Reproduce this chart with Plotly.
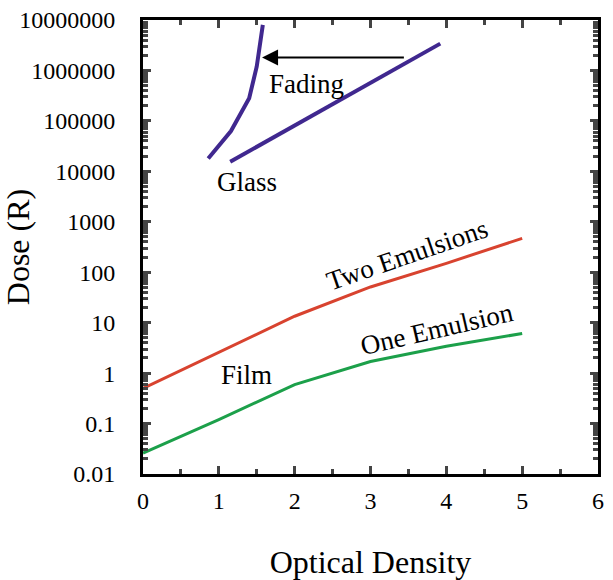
import numpy as np
import plotly.graph_objects as go

# ---- data ----
two_x = [0, 1, 2, 3, 4, 5]
two_y = [0.5, 2.6, 13.4, 51, 150, 470]
one_x = [0, 1, 2, 3, 4, 5]
one_y = [0.026, 0.12, 0.59, 1.7, 3.4, 6.1]
glass_x = [1.15, 3.92]
glass_y = [15500, 3.4e6]
fade_x = [0.86, 1.16, 1.40, 1.50, 1.58]
fade_y = [18000, 63000, 280000, 1.2e6, 8e6]

ytick_vals = [0.01, 0.1, 1, 10, 100, 1000, 10000, 100000, 1000000, 10000000]
ytick_text = ["0.01", "0.1", "1", "10", "100", "1000", "10000", "100000", "1000000", "10000000"]
xtick_vals = [0, 1, 2, 3, 4, 5, 6]

PURPLE = "#40288f"
RED = "#d8432f"
GREEN = "#1ca04a"
FONT = "Liberation Serif"

fig = go.Figure()
fig.add_trace(go.Scatter(x=two_x, y=two_y, mode="lines", line=dict(color=RED, width=3)))
fig.add_trace(go.Scatter(x=one_x, y=one_y, mode="lines", line=dict(color=GREEN, width=3)))
fig.add_trace(go.Scatter(x=glass_x, y=glass_y, mode="lines", line=dict(color=PURPLE, width=4)))
fig.add_trace(go.Scatter(x=fade_x, y=fade_y, mode="lines", line=dict(color=PURPLE, width=4)))

def lab(text, x, y, angle=0):
    fig.add_annotation(x=x, y=np.log10(y), text=text, showarrow=False, textangle=angle,
                       font=dict(family=FONT, size=27, color="black"))

lab("Fading", 2.16, 5.5e5)
lab("Glass", 1.37, 6150)
lab("Film", 1.37, 0.91)
lab("Two Emulsions", 3.48, 220, -19)
lab("One Emulsion", 3.88, 7.6, -13)

# arrow
fig.add_annotation(x=1.57, y=np.log10(1.8e6), ax=3.46, ay=np.log10(1.8e6),
                   xref="x", yref="y", axref="x", ayref="y", text="", showarrow=True,
                   arrowhead=2, arrowsize=1.6, arrowwidth=2, arrowcolor="black")

fig.update_xaxes(range=[0, 6], tickvals=xtick_vals, ticks="inside", ticklen=8, tickwidth=3,
                 showline=True, linewidth=3, linecolor="black", mirror="ticks", showgrid=False,
                 zeroline=False, tickfont=dict(family=FONT, size=24, color="black"),
                 ticklabelstandoff=3,
                 minor=dict(ticks="inside", ticklen=5, tickwidth=3, dtick=0.5, showgrid=False),
                 title=dict(text="Optical Density", font=dict(family=FONT, size=32, color="black"),
                            standoff=41))
fig.update_yaxes(type="log", range=[-2, 7], tickvals=ytick_vals, ticktext=ytick_text,
                 ticks="inside", ticklen=8, tickwidth=3,
                 showline=True, linewidth=3, linecolor="black", mirror="ticks", showgrid=False,
                 zeroline=False, tickfont=dict(family=FONT, size=24, color="black"),
                 ticklabelstandoff=20,
                 minor=dict(ticks="inside", ticklen=5, tickwidth=3, dtick="D1", showgrid=False),
                 title=dict(text="Dose (R)", font=dict(family=FONT, size=32, color="black"),
                            standoff=12))

fig.update_layout(width=613, height=580, showlegend=False,
                  font=dict(family=FONT, color="black"),
                  margin=dict(l=143, r=15, t=20, b=106, autoexpand=False),
                  plot_bgcolor="white", paper_bgcolor="white")

fig.write_html("out.html")
